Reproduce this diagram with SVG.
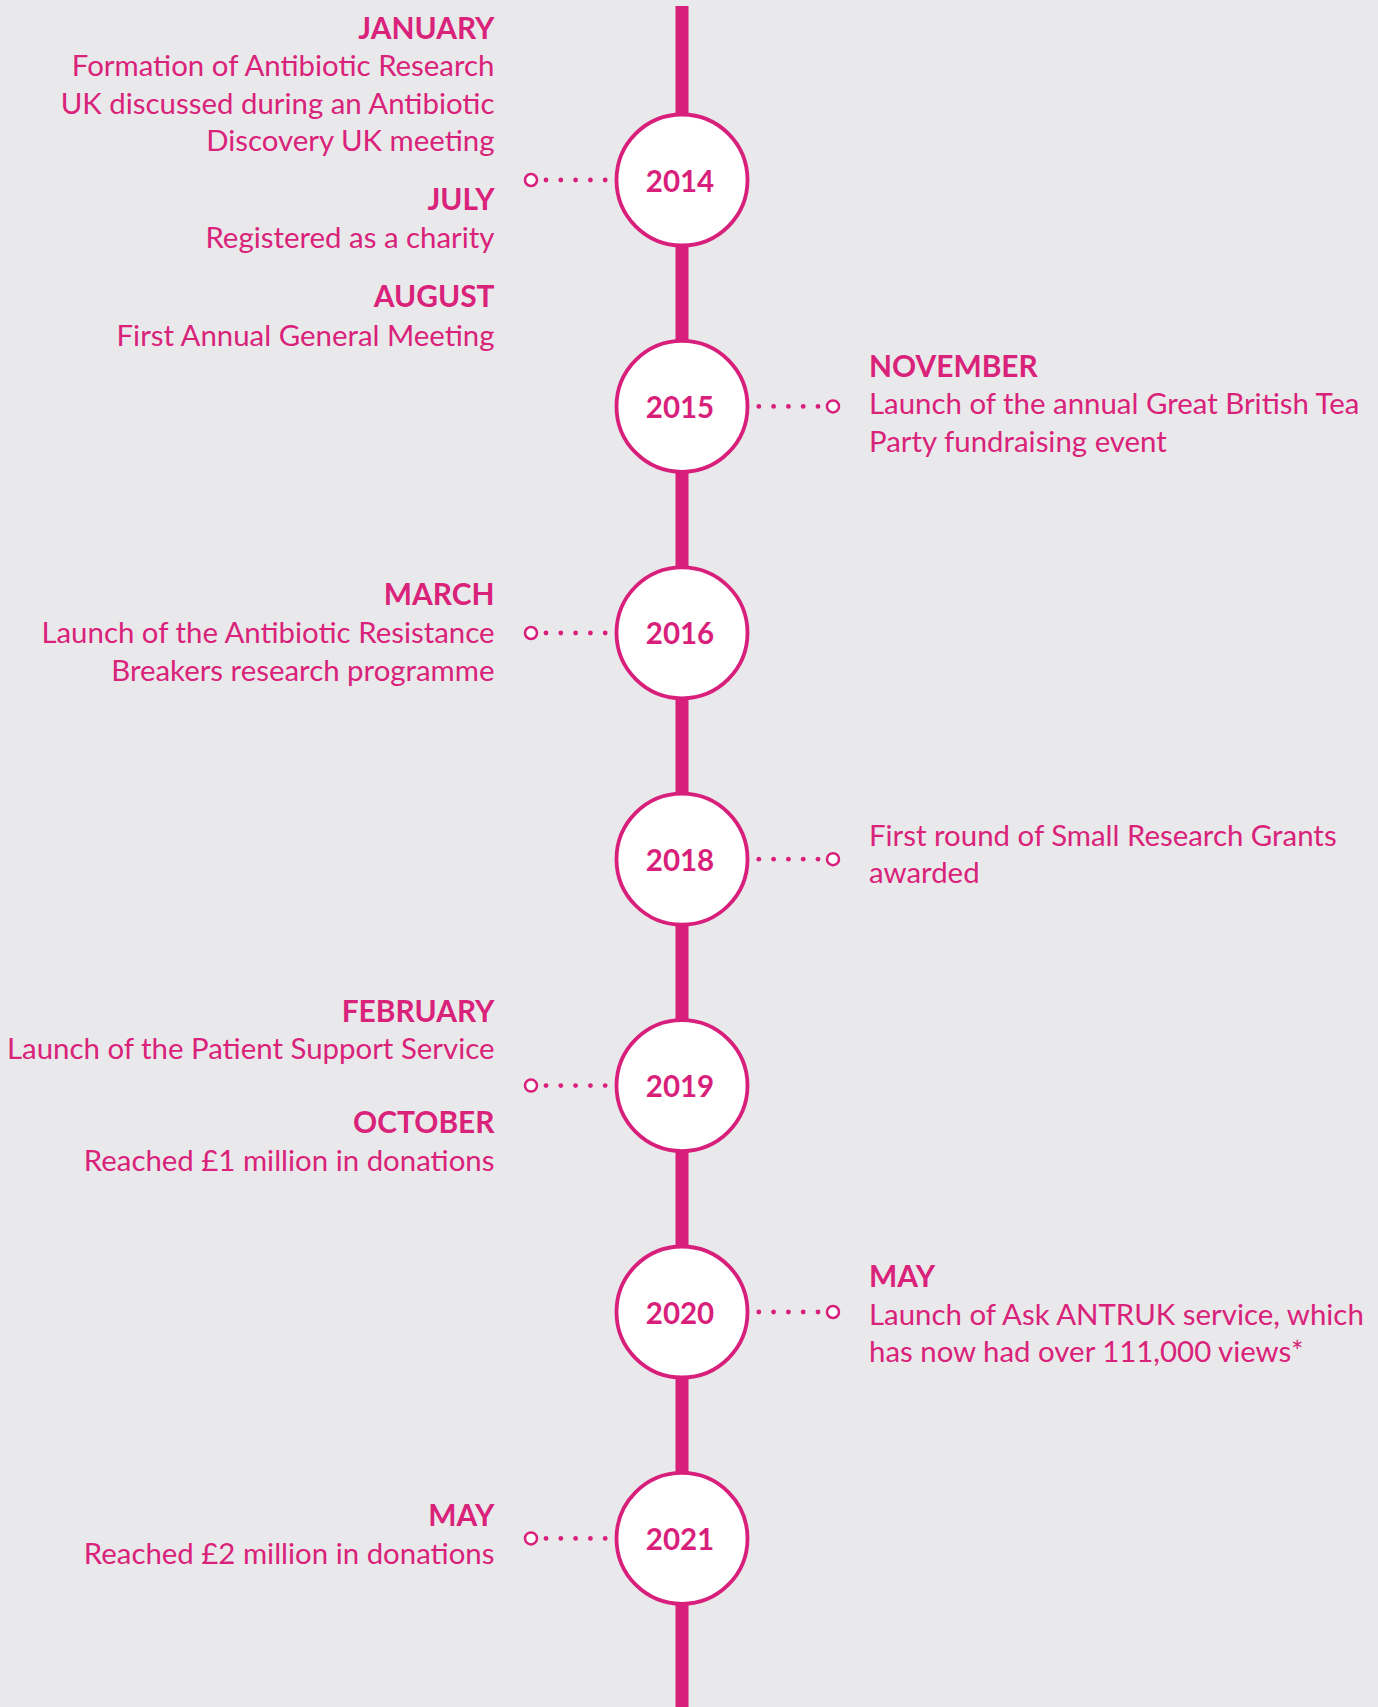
<svg xmlns="http://www.w3.org/2000/svg" width="1378" height="1707" viewBox="0 0 1378 1707">
<style>
.bg{fill:#e9e9eb}
.spine{fill:#d81f7b}
.yr circle{fill:#ffffff;stroke:#d81f7b;stroke-width:3.8}
.yr text{font-family:Lato,"Liberation Sans",sans-serif;font-weight:700;font-size:29.5px;fill:#d81f7b;text-anchor:middle}
.dot{fill:#d81f7b}
.end{fill:#ffffff;stroke:#d81f7b;stroke-width:2.5}
.t{font-family:Lato,"Liberation Sans",sans-serif;font-size:29.4px;fill:#d9227a}
.h{font-weight:700;font-size:29.9px}
.l{text-anchor:end}
</style>
<rect class="bg" x="0" y="0" width="1378" height="1707"/>
<g id="connectors">
<rect class="spine" x="675.5" y="6" width="13" height="1701"/>
<g id="c2014"><circle class="end" cx="531" cy="180" r="6"/><circle class="dot" cx="546" cy="180" r="2.4"/><circle class="dot" cx="560.8" cy="180" r="2.4"/><circle class="dot" cx="575.6" cy="180" r="2.4"/><circle class="dot" cx="590.4" cy="180" r="2.4"/><circle class="dot" cx="605.2" cy="180" r="2.4"/></g>
<g id="c2015"><circle class="end" cx="833" cy="406.4" r="6"/><circle class="dot" cx="818" cy="406.4" r="2.4"/><circle class="dot" cx="803.2" cy="406.4" r="2.4"/><circle class="dot" cx="788.4" cy="406.4" r="2.4"/><circle class="dot" cx="773.6" cy="406.4" r="2.4"/><circle class="dot" cx="758.8" cy="406.4" r="2.4"/></g>
<g id="c2016"><circle class="end" cx="531" cy="633" r="6"/><circle class="dot" cx="546" cy="633" r="2.4"/><circle class="dot" cx="560.8" cy="633" r="2.4"/><circle class="dot" cx="575.6" cy="633" r="2.4"/><circle class="dot" cx="590.4" cy="633" r="2.4"/><circle class="dot" cx="605.2" cy="633" r="2.4"/></g>
<g id="c2018"><circle class="end" cx="833" cy="859.2" r="6"/><circle class="dot" cx="818" cy="859.2" r="2.4"/><circle class="dot" cx="803.2" cy="859.2" r="2.4"/><circle class="dot" cx="788.4" cy="859.2" r="2.4"/><circle class="dot" cx="773.6" cy="859.2" r="2.4"/><circle class="dot" cx="758.8" cy="859.2" r="2.4"/></g>
<g id="c2019"><circle class="end" cx="531" cy="1085.6" r="6"/><circle class="dot" cx="546" cy="1085.6" r="2.4"/><circle class="dot" cx="560.8" cy="1085.6" r="2.4"/><circle class="dot" cx="575.6" cy="1085.6" r="2.4"/><circle class="dot" cx="590.4" cy="1085.6" r="2.4"/><circle class="dot" cx="605.2" cy="1085.6" r="2.4"/></g>
<g id="c2020"><circle class="end" cx="833" cy="1312" r="6"/><circle class="dot" cx="818" cy="1312" r="2.4"/><circle class="dot" cx="803.2" cy="1312" r="2.4"/><circle class="dot" cx="788.4" cy="1312" r="2.4"/><circle class="dot" cx="773.6" cy="1312" r="2.4"/><circle class="dot" cx="758.8" cy="1312" r="2.4"/></g>
<g id="c2021"><circle class="end" cx="531" cy="1538.4" r="6"/><circle class="dot" cx="546" cy="1538.4" r="2.4"/><circle class="dot" cx="560.8" cy="1538.4" r="2.4"/><circle class="dot" cx="575.6" cy="1538.4" r="2.4"/><circle class="dot" cx="590.4" cy="1538.4" r="2.4"/><circle class="dot" cx="605.2" cy="1538.4" r="2.4"/></g>
</g>
<g id="y2014" class="yr"><circle cx="682" cy="180" r="65.5"/><text x="680" y="191.5">2014</text></g>
<g id="y2015" class="yr"><circle cx="682" cy="406.4" r="65.5"/><text x="680" y="417.5">2015</text></g>
<g id="y2016" class="yr"><circle cx="682" cy="632.8" r="65.5"/><text x="680" y="644">2016</text></g>
<g id="y2018" class="yr"><circle cx="682" cy="859.2" r="65.5"/><text x="680" y="870.5">2018</text></g>
<g id="y2019" class="yr"><circle cx="682" cy="1085.6" r="65.5"/><text x="680" y="1097">2019</text></g>
<g id="y2020" class="yr"><circle cx="682" cy="1312" r="65.5"/><text x="680" y="1323.5">2020</text></g>
<g id="y2021" class="yr"><circle cx="682" cy="1538.4" r="65.5"/><text x="680" y="1550">2021</text></g>
<g id="e2014">
<text class="t h l" x="494.5" y="38.5">JANUARY</text>
<text class="t l" x="494.5" y="76">Formation of Antibiotic Research</text>
<text class="t l" x="494.5" y="113.5">UK discussed during an Antibiotic</text>
<text class="t l" x="494.5" y="151">Discovery UK meeting</text>
<text class="t h l" x="494.5" y="210">JULY</text>
<text class="t l" x="494.5" y="248.3">Registered as a charity</text>
<text class="t h l" x="494.5" y="307.3">AUGUST</text>
<text class="t l" x="494.5" y="345.7">First Annual General Meeting</text>
</g>
<g id="e2015">
<text class="t h" x="869" y="376.7">NOVEMBER</text>
<text class="t" x="869" y="414">Launch of the annual Great British Tea</text>
<text class="t" x="869" y="451.7">Party fundraising event</text>
</g>
<g id="e2016">
<text class="t h l" x="494.5" y="605">MARCH</text>
<text class="t l" x="494.5" y="643">Launch of the Antibiotic Resistance</text>
<text class="t l" x="494.5" y="680.5">Breakers research programme</text>
</g>
<g id="e2018">
<text class="t" x="869" y="846">First round of Small Research Grants</text>
<text class="t" x="869" y="883.3">awarded</text>
</g>
<g id="e2019">
<text class="t h l" x="494.5" y="1021.7">FEBRUARY</text>
<text class="t l" x="494.5" y="1059.3">Launch of the Patient Support Service</text>
<text class="t h l" x="494.5" y="1133.3">OCTOBER</text>
<text class="t l" x="494.5" y="1170.7">Reached £1 million in donations</text>
</g>
<g id="e2020">
<text class="t h" x="869" y="1286.7">MAY</text>
<text class="t" x="869" y="1325">Launch of Ask ANTRUK service, which</text>
<text class="t" x="869" y="1361.7">has now had over 111,000 views*</text>
</g>
<g id="e2021">
<text class="t h l" x="494.5" y="1526">MAY</text>
<text class="t l" x="494.5" y="1564">Reached £2 million in donations</text>
</g>
</svg>
